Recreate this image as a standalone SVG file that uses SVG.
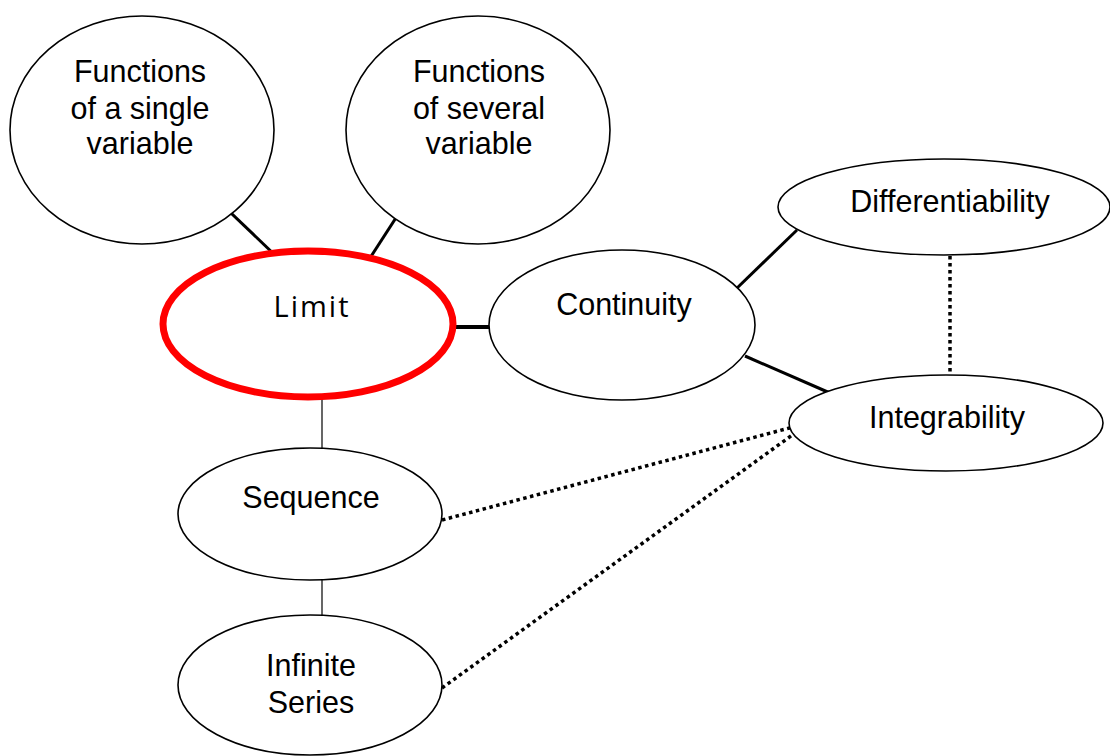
<svg xmlns="http://www.w3.org/2000/svg" width="1110" height="756" viewBox="0 0 1110 756">
  <style>
    .node { fill: #ffffff; stroke: #000000; stroke-width: 1.6; }
    .focus { fill: #ffffff; stroke: #ff0000; stroke-width: 7; }
    .label { font-family: "Liberation Sans", Arial, sans-serif; font-size: 30.5px; fill: #000000; text-anchor: middle; }
    .label-limit { font-family: "Open Sans", "DejaVu Sans", sans-serif; font-size: 29px; letter-spacing: 2px; fill: #000000; text-anchor: middle; }
    .link { stroke: #000000; fill: none; }
    .solid { stroke-width: 3; }
    .thin { stroke-width: 1.2; }
    .dotted { stroke-width: 3.5; stroke-dasharray: 3.5 3.5; }
  </style>

  <!-- connectors are drawn first so the ellipses cover their ends -->
  <g id="connectors">
    <line class="link solid" x1="210" y1="193" x2="277" y2="257"/>
    <line class="link solid" x1="412" y1="193" x2="370" y2="258"/>
    <line class="link solid" x1="452" y1="327" x2="492" y2="327" style="stroke-width:4"/>
    <line class="link thin" x1="322" y1="398" x2="322" y2="450"/>
    <line class="link thin" x1="322" y1="578" x2="322" y2="618"/>
    <line class="link solid" x1="735" y1="290" x2="797" y2="230"/>
    <line class="link solid" x1="745" y1="356" x2="830" y2="393"/>
    <line class="link dotted" x1="950" y1="256" x2="950" y2="376"/>
    <line class="link dotted" x1="442" y1="520" x2="797" y2="426"/>
    <line class="link dotted" x1="442" y1="688" x2="802" y2="428"/>
  </g>

  <g id="node-single">
    <ellipse class="node" cx="142" cy="130" rx="132" ry="114"/>
    <text class="label" x="140" y="82">Functions</text>
    <text class="label" x="140" y="119">of a single</text>
    <text class="label" x="140" y="154">variable</text>
  </g>

  <g id="node-several">
    <ellipse class="node" cx="478" cy="130" rx="132" ry="114"/>
    <text class="label" x="479" y="82">Functions</text>
    <text class="label" x="479" y="119">of several</text>
    <text class="label" x="479" y="154">variable</text>
  </g>

  <g id="node-limit">
    <ellipse class="focus" cx="308" cy="324" rx="145" ry="73"/>
    <text class="label-limit" x="312" y="317">Limit</text>
  </g>

  <g id="node-continuity">
    <ellipse class="node" cx="622" cy="325" rx="133" ry="75"/>
    <text class="label" x="624" y="315">Continuity</text>
  </g>

  <g id="node-differentiability">
    <ellipse class="node" cx="944" cy="207" rx="166" ry="48"/>
    <text class="label" x="950" y="212">Differentiability</text>
  </g>

  <g id="node-integrability">
    <ellipse class="node" cx="946" cy="423" rx="157" ry="48"/>
    <text class="label" x="947" y="428">Integrability</text>
  </g>

  <g id="node-sequence">
    <ellipse class="node" cx="310" cy="514" rx="132" ry="66"/>
    <text class="label" x="311" y="508">Sequence</text>
  </g>

  <g id="node-series">
    <ellipse class="node" cx="310" cy="685" rx="132" ry="70"/>
    <text class="label" x="311" y="676">Infinite</text>
    <text class="label" x="311" y="713">Series</text>
  </g>
</svg>
